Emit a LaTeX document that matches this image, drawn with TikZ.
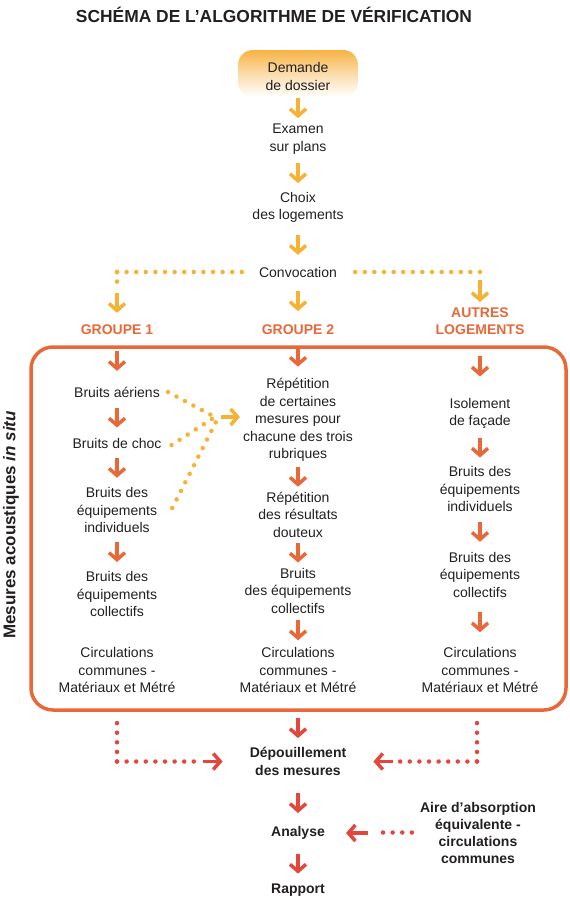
\documentclass[tikz,border=0pt]{standalone}
\usepackage{fontspec}
\setmainfont{Liberation Sans}
\usetikzlibrary{arrows.meta,calc}
\definecolor{cy}{RGB}{246,178,52}
\definecolor{co}{RGB}{232,104,58}
\definecolor{cr}{RGB}{227,71,59}
\definecolor{ct}{RGB}{35,31,32}
\definecolor{cg}{RGB}{247,178,68}
\tikzset{
 txt/.style={align=center,inner sep=0pt,text=ct,font=\fontsize{14}{17.5}\selectfont},
 btxt/.style={align=center,inner sep=0pt,text=ct,font=\fontsize{14}{17.5}\selectfont\bfseries},
 grp/.style={align=center,inner sep=0pt,text=co,font=\fontsize{14}{17.5}\selectfont\bfseries},
 arrbase/.style={line width=3.5pt,-{Straight Barb[length=7pt,width=16pt]}},
 yarr/.style={arrbase,draw=cy},
 oarr/.style={arrbase,draw=co},
 rarr/.style={arrbase,draw=cr},
 dots/.style={line width=4.5pt,line cap=round,dash pattern=on 0pt off 9.6pt},
 ydots/.style={dots,draw=cy},
 rdots/.style={dots,draw=cr},
}
\newcommand\varrow[4][0]{\draw[#2] ($(#3.south)!0.5!(#4.north)+(0,#1-10)$) -- ++(0,20);}
\begin{document}
\begin{tikzpicture}[x=1pt,y=-1pt]
\useasboundingbox (0,0) rectangle (570,900);
% title
\node[inner sep=0pt,text=ct,font=\fontsize{17.4}{20}\selectfont\bfseries] (title) at (274,15) {SCHÉMA DE L’ALGORITHME DE VÉRIFICATION};
% start box
\shade[top color=cg,bottom color=white,middle color=cg!45!white,rounded corners=15pt] (238,50) rectangle (358,97);
\node[txt] (dem) at (298,76.5) {Demande\\de dossier};
\node[txt] (exa) at (298,139) {Examen\\sur plans};
\node[txt] (cho) at (298,207.5) {Choix\\des logements};
\node[txt] (conv) at (298,272) {Convocation};
\node[grp] (g1) at (117,330) {GROUPE 1};
\node[grp] (g2) at (298,330) {GROUPE 2};
\node[grp] (g3) at (480,321) {AUTRES\\LOGEMENTS};
% frame
\node[draw=co,line width=3.5pt,rounded corners=22pt,minimum width=535pt,minimum height=363pt,inner sep=0pt] (box) at (298.5,528.5) {};
\node[rotate=90,inner sep=0pt,text=ct,font=\fontsize{17}{20}\selectfont\bfseries] (mes) at (11,525) {Mesures acoustiques \textit{in situ}};
% group 1
\node[txt] (a1) at (117,392) {Bruits aériens};
\node[txt] (a2) at (117,443) {Bruits de choc};
\node[txt] (a3) at (117,510) {Bruits des\\équipements\\individuels};
\node[txt] (a4) at (117,594) {Bruits des\\équipements\\collectifs};
\node[txt] (a5) at (117,670) {Circulations\\communes -\\Matériaux et Métré};
% group 2
\node[txt] (b1) at (298,420) {Répétition\\de certaines\\mesures pour\\chacune des trois\\rubriques};
\node[txt] (b2) at (298,514.5) {Répétition\\des résultats\\douteux};
\node[txt] (b3) at (298,590.5) {Bruits\\des équipements\\collectifs};
\node[txt] (b4) at (298,670) {Circulations\\communes -\\Matériaux et Métré};
% group 3
\node[txt] (c1) at (480,413.5) {Isolement\\de façade};
\node[txt] (c2) at (480,489) {Bruits des\\équipements\\individuels};
\node[txt] (c3) at (480,574.5) {Bruits des\\équipements\\collectifs};
\node[txt] (c4) at (480,670) {Circulations\\communes -\\Matériaux et Métré};
% bottom
\node[btxt] (dep) at (298,761.5) {Dépouillement\\des mesures};
\node[btxt] (ana) at (298,833) {Analyse};
\node[btxt] (rap) at (298,890) {Rapport};
\node[btxt,font=\fontsize{14}{17}\selectfont\bfseries] (aire) at (478,832.5) {Aire d’absorption\\équivalente -\\circulations\\communes};
% top arrows
\varrow[1]{yarr}{dem}{exa}
\varrow{yarr}{exa}{cho}
\varrow{yarr}{cho}{conv}
\varrow{yarr}{conv}{g2}
% convocation branches
\coordinate (lc) at (g1 |- conv);
\coordinate (rc) at (g3 |- conv);
\draw[ydots] (lc) -- ($(conv.west)+(-16,0)$);
\draw[ydots] (lc) -- ($(lc)+(0,15)$);
\draw[yarr] ($(g1.north)+(0,-32)$) -- ($(g1.north)+(0,-12)$);
\draw[ydots] (rc) -- ($(conv.east)+(11,0)$);
\draw[yarr] ($(g3.north)+(0,-27)$) -- ($(g3.north)+(0,-5)$);
% into frame
\varrow{oarr}{g1}{a1}
\varrow{oarr}{g2}{b1}
\varrow{oarr}{g3}{c1}
\varrow{oarr}{a1}{a2}
\varrow{oarr}{a2}{a3}
\varrow{oarr}{a3}{a4}
\varrow{oarr}{b1}{b2}
\varrow{oarr}{b2}{b3}
\varrow{oarr}{b3}{b4}
\varrow{oarr}{c1}{c2}
\varrow{oarr}{c2}{c3}
\varrow{oarr}{c3}{c4}
% converging dotted lines
\coordinate (yt) at ($(b1.west)+(-3,-3)$);
\coordinate (cv) at ($(yt)+(-25,0)$);
\draw[ydots] ($(a1.east)+(8,0)$) -- (cv);
\draw[ydots] ($(a2.east)+(10,2)$) -- (cv);
\draw[ydots] ($(a3.east)+(15,-2)$) -- ($(cv)+(2,3)$);
\draw[yarr] ($(yt)+(-19,0)$) -- (yt);
% bottom arrows
\varrow[8]{rarr}{b4}{dep}
\varrow[2]{rarr}{dep}{ana}
\varrow[2]{rarr}{ana}{rap}
\coordinate (blc) at (a5 |- dep);
\coordinate (brc) at ($(c4 |- dep)+(-3,0)$);
\draw[rdots] (blc) -- ($(blc)+(0,-41)$);
\draw[rdots] (blc) -- ($(blc)+(77,0)$);
\draw[rarr] ($(dep.west)+(-47,0)$) -- ($(dep.west)+(-27,0)$);
\draw[rdots] (brc) -- ($(brc)+(0,-41)$);
\draw[rdots] (brc) -- ($(brc)+(-77,0)$);
\draw[rarr] ($(dep.east)+(47,0)$) -- ($(dep.east)+(27,0)$);
\draw[rdots] ($(aire.west)+(-8,0)$) -- ($(aire.west)+(-37,0)$);
\draw[rarr] ($(ana.east)+(43,0)$) -- ($(ana.east)+(21,0)$);
\end{tikzpicture}
\end{document}
